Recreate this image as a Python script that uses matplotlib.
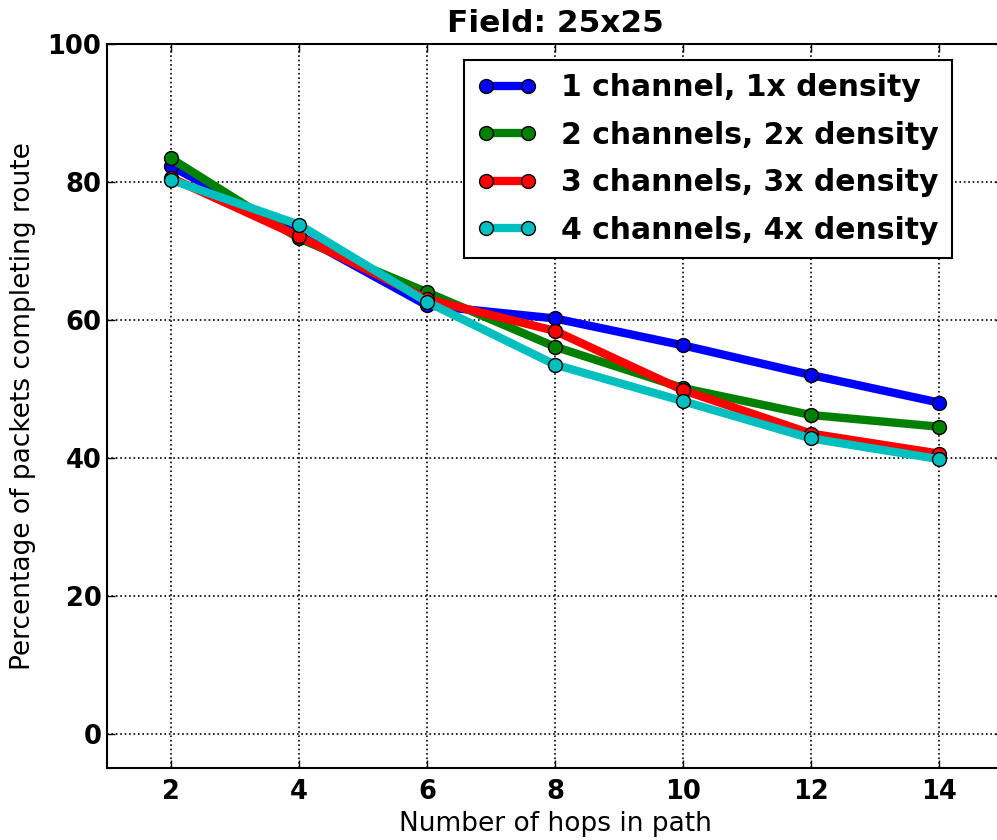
import matplotlib
matplotlib.use('Agg')
import matplotlib.pyplot as plt

hops = [2, 4, 6, 8, 10, 12, 14]
one_ch = [82.3, 72.3, 62.1, 60.2, 56.3, 52.0, 48.0]
two_ch = [83.4, 71.8, 64.0, 56.1, 50.1, 46.2, 44.5]
three_ch = [80.6, 72.1, 63.0, 58.4, 49.8, 43.5, 40.6]
four_ch = [80.3, 73.8, 62.6, 53.5, 48.2, 42.8, 39.8]
labels = ['1 channel, 1x density', '2 channels, 2x density',
          '3 channels, 3x density', '4 channels, 4x density']
colors = ['b', 'g', 'r', 'c']

fig = plt.figure(figsize=(9.97, 8.4), dpi=100)
ax = fig.add_axes([0.1073, 0.0857, 0.8987, 0.8619])

for ys, lab, c in zip([one_ch, two_ch, three_ch, four_ch], labels, colors):
    ax.plot(hops, ys, '-o', color=c, lw=6, ms=10, mec='k', mew=1, label=lab)

ax.set_xlim(1, 15)
ax.set_ylim(-5, 100)
ax.set_xticks(hops)
ax.set_yticks([0, 20, 40, 60, 80, 100])
ax.grid(True, color='k', linestyle=':', linewidth=1.2)
ax.tick_params(direction='in', top=True, right=True, length=6, width=1, labelsize=18.5)
ax.tick_params(axis='y', pad=4)
ax.tick_params(axis='x', pad=8)
for t in ax.get_xticklabels() + ax.get_yticklabels():
    t.set_fontweight('bold')
for s in ax.spines.values():
    s.set_linewidth(1.5)

ax.set_title('Field: 25x25', fontsize=22.5, fontweight='bold', pad=9)
ax.set_xlabel('Number of hops in path', fontsize=19)
ax.set_ylabel('Percentage of packets completing route', fontsize=19, labelpad=8)

leg = ax.legend(loc='upper right', bbox_to_anchor=(0.943, 0.978), borderaxespad=0,
                numpoints=2, fancybox=False, framealpha=1, edgecolor='k',
                prop={'size': 21.5, 'weight': 'bold'}, handlelength=2.0,
                labelspacing=0.62, borderpad=0.45)
leg.get_frame().set_linewidth(1.5)

fig.savefig('out.png', dpi=100)
